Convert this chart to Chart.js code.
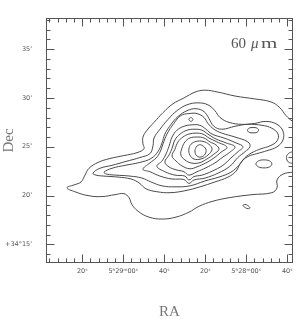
<!DOCTYPE html>
<html>
<head>
<meta charset="utf-8">
<script src="https://cdn.jsdelivr.net/npm/chart.js@4/dist/chart.umd.min.js"></script>
<style>
  html, body { margin: 0; padding: 0; background: #fff; }
  canvas { display: block; }
</style>
</head>
<body>
<canvas id="chart" width="303" height="320"></canvas>
<script>
// x = RA in seconds west of 5h29m40s, y = Dec in arcmin above +34°
const xMin = 2.3, xMax = 122.8;
const yMin = 13.1, yMax = 38.2;

const xMajor = [20, 40, 60, 80, 100, 120];
const xLabels = ['20ˢ', '5ʰ29ᵐ00ˢ', '40ˢ', '20ˢ', '5ʰ28ᵐ00ˢ', '40ˢ'];
const yMajor = [15, 20, 25, 30, 35];
const yLabels = ["+34°15'", "20'", "25'", "30'", "35'"];

// 60 micron contours, outermost first
const level1 = [[12.5,20.8],[16.4,20.4],[22.8,20.0],[29.6,19.9],[36.0,20.1],[40.3,20.2],[42.8,19.8],[44.2,19.1],[47.2,18.4],[52.5,17.8],[58.9,17.6],[65.7,17.8],[72.0,18.3],[76.9,18.9],[83.3,19.4],[92.0,19.8],[102.8,20.1],[112.5,20.3],[115.0,20.8],[115.0,21.6],[117.9,22.2],[122.8,22.4],[127.2,22.4],[129.1,24.6],[127.7,27.3],[122.8,27.6],[119.4,28.2],[116.4,29.0],[112.0,29.6],[104.2,29.9],[94.5,30.2],[86.2,30.6],[79.8,30.8],[75.0,30.6],[69.6,30.0],[64.2,29.4],[59.4,28.5],[55.0,27.5],[51.6,26.7],[49.6,26.0],[49.6,25.3],[50.1,24.8],[46.7,24.4],[40.3,24.1],[33.5,23.8],[27.7,23.4],[23.3,22.8],[21.3,22.1],[19.4,21.4],[16.0,21.1]];
const level2 = [[25.2,22.3],[28.6,22.8],[34.5,23.1],[41.3,23.5],[48.1,23.9],[53.0,24.3],[54.5,25.1],[55.0,25.9],[57.9,26.8],[61.8,27.8],[66.2,28.7],[71.1,29.3],[76.4,29.5],[81.3,29.3],[84.7,28.7],[87.2,28.0],[91.6,27.5],[97.9,27.3],[104.2,27.4],[109.6,27.6],[115.0,27.3],[117.9,26.6],[117.9,25.7],[115.0,25.0],[110.1,24.6],[105.2,24.3],[100.8,24.0],[97.4,23.4],[95.0,22.5],[91.1,21.9],[84.7,21.4],[77.4,20.9],[70.1,20.5],[62.8,20.3],[56.4,20.4],[51.1,20.7],[47.7,21.3],[43.8,21.7],[37.4,21.9],[30.6,22.0],[26.7,22.1]];
const level3 = [[30.6,22.4],[34.5,22.8],[40.8,23.1],[48.1,23.4],[53.5,23.8],[56.9,24.5],[58.9,25.4],[60.3,26.3],[63.3,27.3],[66.7,28.1],[71.1,28.7],[75.5,28.9],[79.4,28.6],[81.8,27.9],[84.2,27.1],[88.1,26.8],[94.5,27.1],[100.8,27.3],[107.7,27.2],[112.5,26.9],[115.5,26.3],[115.0,25.6],[111.6,25.1],[107.2,24.8],[102.8,24.4],[99.4,23.9],[96.4,23.1],[92.5,22.4],[86.7,21.9],[79.8,21.5],[72.5,21.0],[65.2,20.9],[58.9,21.0],[53.5,21.4],[49.1,21.8],[43.3,22.0],[36.4,22.1],[32.0,22.2]];
const level4 = [[49.6,22.7],[53.0,23.35],[56.0,23.85],[57.9,24.45],[59.4,25.3],[61.3,26.3],[64.7,27.4],[68.1,28.2],[72.0,28.4],[76.0,28.4],[79.4,28.0],[81.3,27.4],[84.2,26.8],[88.1,26.4],[94.5,26.0],[100.8,25.5],[101.8,25.0],[99.4,24.5],[95.9,23.9],[92.0,23.0],[86.2,22.3],[79.9,21.8],[74.5,21.6],[72.0,21.25],[69.6,21.65],[63.8,21.7],[57.9,22.0],[53.0,22.45]];
const level5 = [[56.4,23.0],[58.9,23.55],[60.8,24.25],[62.3,25.05],[63.8,26.0],[66.2,26.7],[69.6,27.1],[73.5,27.25],[77.4,27.2],[80.3,26.8],[83.3,26.3],[89.1,25.9],[95.0,25.4],[98.4,25.0],[96.0,24.5],[92.5,23.85],[88.6,23.1],[83.3,22.5],[78.4,22.1],[74.5,21.95],[72.0,21.6],[70.1,22.0],[65.2,22.1],[60.3,22.45]];
const level6 = [[60.3,23.45],[62.3,24.15],[63.8,24.85],[65.2,25.7],[67.7,26.3],[71.1,26.7],[75.0,26.8],[78.4,26.7],[81.3,26.3],[85.2,25.8],[90.1,25.4],[94.5,25.0],[92.0,24.45],[88.6,23.95],[84.7,23.35],[80.3,22.85],[76.0,22.45],[72.0,22.1],[69.6,22.45],[65.7,22.65],[62.3,22.94]];
const level7 = [[63.8,24.05],[65.2,24.75],[66.7,25.5],[69.1,26.0],[72.0,26.3],[75.5,26.4],[78.9,26.3],[81.8,25.9],[85.7,25.5],[90.6,24.95],[87.7,24.45],[84.2,23.85],[80.3,23.35],[76.0,22.95],[72.5,22.75],[68.6,23.05],[65.7,23.55]];
const level8 = [[68.1,24.15],[68.6,24.85],[70.1,25.5],[72.5,25.9],[76.0,26.0],[79.4,25.9],[82.3,25.5],[85.2,25.2],[86.7,24.75],[84.2,24.25],[80.8,23.75],[76.9,23.35],[73.0,23.35],[70.1,23.65]];
const level9 = [[72.0,24.75],[73.0,25.25],[75.5,25.55],[78.9,25.55],[81.8,25.25],[83.3,24.75],[81.3,24.15],[77.9,23.75],[74.5,23.75],[72.5,24.15]];
const level10 = [[78.4,25.15],[80.3,24.75],[79.9,24.25],[77.9,23.95],[76.0,24.05],[75.0,24.45],[75.5,24.95],[76.9,25.2]];

// small isolated knots
const knotNorth = [[72.0,27.8],[73.0,28.0],[74.0,27.8],[73.0,27.6]];
const knotEast = [[100.6,26.7],[101.4,26.92],[103.3,26.97],[105.2,26.92],[106.0,26.7],[105.2,26.48],[103.3,26.43],[101.4,26.48]];
const knotSouthEast = [[104.7,23.25],[105.9,23.55],[108.6,23.66],[111.4,23.55],[112.5,23.25],[111.4,22.95],[108.6,22.84],[105.9,22.95]];
const knotSouth = [[98.4,19.0],[99.3,19.1],[100.6,19.0],[101.8,18.75],[100.9,18.66],[99.6,18.76]];
const knotEdge = [[126.0,24.6],[122.8,24.5],[120.5,24.3],[119.6,23.9],[120.5,23.45],[122.8,23.3],[126.0,23.3]];

const contours = [
  { pts: level1, closed: true }, { pts: level2, closed: true }, { pts: level3, closed: true },
  { pts: level4, closed: true }, { pts: level5, closed: true }, { pts: level6, closed: true },
  { pts: level7, closed: true }, { pts: level8, closed: true }, { pts: level9, closed: true },
  { pts: level10, closed: true },
  { pts: knotNorth, closed: true }, { pts: knotEast, closed: true }, { pts: knotSouthEast, closed: true },
  { pts: knotSouth, closed: true }, { pts: knotEdge, closed: false }
];

const xMinor = [];
for (let v = 4; v <= 120; v += 4) xMinor.push(v);
const yMinor = [];
for (let v = 14; v <= 38; v++) yMinor.push(v);

const lineColor = '#4a4a4a';

const datasets = contours.map(c => ({
  data: c.pts.map(([x, y]) => ({ x, y })),
  closed: c.closed,
  borderColor: lineColor,
  borderWidth: 1,
  pointRadius: 0,
  fill: false,
  tension: 0.4
}));

// make the contour splines close smoothly on themselves
const closeLoops = {
  id: 'closeLoops',
  afterDatasetsUpdate(chart) {
    chart.data.datasets.forEach((ds, i) => {
      if (!ds.closed) return;
      const line = chart.getDatasetMeta(i).dataset;
      if (!line) return;
      line._loop = true;
      line._fullLoop = true;
      line._pointsUpdated = false;
      delete line._segments;
      delete line._path;
    });
  }
};

// box frame with inward ticks, plus the band label
const frame = {
  id: 'frame',
  afterDraw(chart) {
    const { ctx, chartArea: a, scales: { x, y } } = chart;
    const L = Math.round(a.left) + 0.5, R = Math.round(a.right) - 0.5;
    const T = Math.round(a.top) + 0.5, B = Math.round(a.bottom) - 0.5;
    ctx.save();
    ctx.strokeStyle = '#555';
    ctx.lineWidth = 1;
    ctx.strokeRect(L, T, R - L, B - T);
    ctx.beginPath();
    xMinor.forEach(v => {
      const p = Math.round(x.getPixelForValue(v)) + 0.5;
      const len = xMajor.includes(v) ? 8 : 4;
      ctx.moveTo(p, B); ctx.lineTo(p, B - len);
      ctx.moveTo(p, T); ctx.lineTo(p, T + len);
    });
    yMinor.forEach(v => {
      const p = Math.round(y.getPixelForValue(v)) + 0.5;
      const len = yMajor.includes(v) ? 8 : 4;
      ctx.moveTo(L, p); ctx.lineTo(L + len, p);
      ctx.moveTo(R, p); ctx.lineTo(R - len, p);
    });
    ctx.stroke();

    ctx.fillStyle = '#555';
    ctx.textBaseline = 'alphabetic';
    ctx.font = '15px "Liberation Serif"';
    ctx.fillText('60', a.right - 62, a.top + 30);
    ctx.font = 'italic 15px "Liberation Serif"';
    ctx.fillText('μ', a.right - 42, a.top + 30);
    ctx.font = '15px "Liberation Serif"';
    ctx.translate(a.right - 32, a.top + 30);
    ctx.scale(1.4, 1);
    ctx.fillText('m', 0, 0);
    ctx.restore();
  }
};

const tickFont = { family: 'DejaVu Sans', size: 6.5 };
const titleFont = { family: 'Liberation Serif', size: 15, lineHeight: 1 };

new Chart(document.getElementById('chart'), {
  type: 'line',
  data: { datasets },
  options: {
    responsive: false,
    animation: false,
    events: [],
    devicePixelRatio: 1,
    layout: { padding: { top: 15, right: 10, left: 0, bottom: 0 } },
    elements: { line: { capBezierPoints: false } },
    plugins: { legend: { display: false }, tooltip: { enabled: false } },
    scales: {
      x: {
        type: 'linear',
        min: xMin,
        max: xMax,
        grid: { display: false, drawTicks: false },
        border: { display: false },
        afterBuildTicks: s => { s.ticks = xMajor.map(v => ({ value: v })); },
        afterFit: s => { s.height = 57; },
        ticks: {
          autoSkip: false,
          maxRotation: 0,
          padding: 4,
          color: '#555',
          font: tickFont,
          callback: v => xLabels[xMajor.indexOf(v)]
        },
        title: { display: true, text: 'RA', color: '#777', font: titleFont, padding: 0 }
      },
      y: {
        type: 'linear',
        min: yMin,
        max: yMax,
        grid: { display: false, drawTicks: false },
        border: { display: false },
        afterBuildTicks: s => { s.ticks = yMajor.map(v => ({ value: v })); },
        afterFit: s => { s.width = 46; },
        ticks: {
          autoSkip: false,
          padding: 14,
          color: '#555',
          font: tickFont,
          callback: v => yLabels[yMajor.indexOf(v)]
        },
        title: { display: true, text: 'Dec', color: '#777', font: titleFont, padding: { top: 1.5, bottom: 0 } }
      }
    }
  },
  plugins: [closeLoops, frame]
});
</script>
</body>
</html>
